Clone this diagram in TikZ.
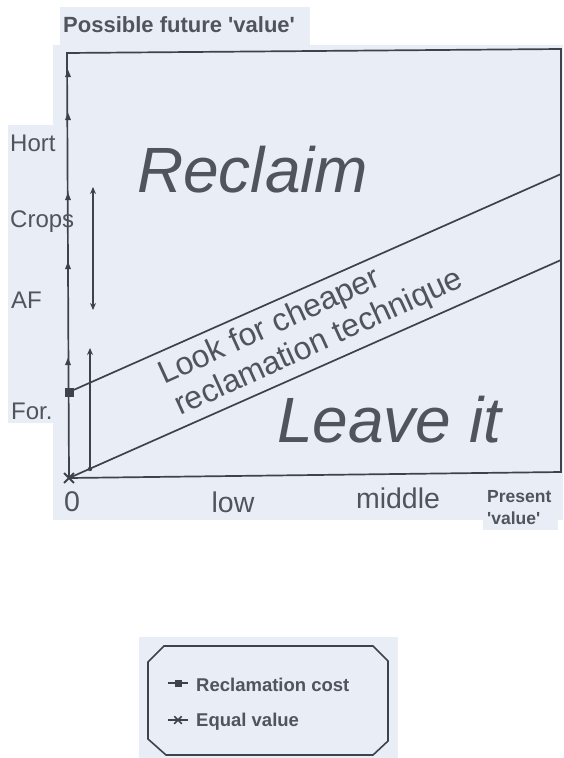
\documentclass[tikz,border=0pt]{standalone}
\usepackage{fontspec}
\setmainfont{Liberation Sans}
\usetikzlibrary{arrows.meta,shapes.geometric,shapes.misc}
\definecolor{bg}{RGB}{232,237,246}
\definecolor{ink}{RGB}{62,66,74}
\definecolor{txt}{RGB}{80,84,92}
\tikzset{
  axisline/.style={line width=1.7pt, draw=ink},
  tickmark/.style={isosceles triangle, shape border rotate=90, fill=ink, minimum width=6pt, minimum height=5pt, inner sep=0pt},
  lbl/.style={text=txt, inner sep=0pt, font=\fontsize{24}{28}\selectfont},
  axlbl/.style={text=txt, inner sep=0pt, font=\fontsize{28.5}{30}\selectfont},
  smallbold/.style={text=txt, inner sep=0pt, font=\bfseries\fontsize{18.5}{20}\selectfont},
  big/.style={text=txt, inner sep=0pt, font=\itshape\fontsize{64}{70}\selectfont},
  diag/.style={text=txt, inner sep=0pt, rotate=24.5, anchor=base west, font=\fontsize{32}{34}\selectfont},
  arr/.style={line width=1.4pt, draw=ink, {Stealth[length=7pt,width=6pt]}-{Stealth[length=7pt,width=6pt]}},
  legline/.style={line width=1.6pt, draw=ink}
}
\begin{document}
\begin{tikzpicture}[x=1pt,y=-1pt]
\useasboundingbox (0,0) rectangle (563,758);
\fill[white] (0,0) rectangle (563,758);
% paper backgrounds
\fill[bg] (60,7) rectangle (310,45);
\fill[bg] (53,45) rectangle (563,520);
\fill[bg] (8,125) rectangle (62,423);
\fill[bg] (483,500) rectangle (558,530);
\fill[bg] (139,637) rectangle (398,758);

% frame and axes
\coordinate (O) at (69,478);
\coordinate (TL) at (67,53);
\coordinate (TR) at (561,49);
\coordinate (BR) at (561,472);
\draw[axisline] (O) -- (TL) -- (TR) -- (BR) -- (O);

% value lines
\coordinate (S) at (69,392);
\coordinate (U) at (561,174);
\coordinate (L) at (561,260);
\draw[axisline] (S) -- (U);
\draw[axisline] (O) -- (L);

% axis tick markers
\foreach \yy/\nm in {75/t1,118/t2,198/t3,267/t4,363/t5}
  \node[tickmark] (\nm) at (68,\yy) {};
\node[fill=ink, minimum size=9pt, inner sep=0pt] (sq) at (S) {};
\node[cross out, draw=ink, line width=1.8pt, minimum size=8pt, inner sep=0pt] (ox) at (O) {};

% range arrows
\coordinate (a1) at (93,187);
\coordinate (a2) at (93,310);
\draw[arr] (a1) -- (a2);
\coordinate (b1) at (90,348);
\coordinate (b2) at (90,469);
\draw[line width=1.4pt, draw=ink, -{Stealth[length=7pt,width=6pt]}] (b2) -- (b1);
\fill[ink] (b2) circle (2.2pt);

% labels
\node[text=txt, inner sep=0pt, anchor=west, font=\bfseries\fontsize{22}{24}\selectfont] (yt) at (63,25) {Possible future \textquotesingle value\textquotesingle};
\node[lbl, anchor=west] (hort) at (10,143) {Hort};
\node[lbl, anchor=west] (crops) at (10,222) {Crops};
\node[lbl, anchor=west] (af) at (11,300) {AF};
\node[lbl, anchor=west] (for) at (11,411) {For.};
\node[axlbl] (zero) at (72,502) {0};
\node[axlbl] (low) at (233,502) {low};
\node[axlbl] (mid) at (398,498) {middle};
\node[text=txt, inner sep=0pt, anchor=west, font=\bfseries\fontsize{17.5}{20}\selectfont] (pres) at (487,497) {Present};
\node[text=txt, inner sep=0pt, anchor=west, font=\bfseries\fontsize{17.5}{20}\selectfont] (pval) at (487,518) {\textquotesingle value\textquotesingle};

\node[big, anchor=base west] (rec) at (137,192) {Reclaim};
\node[big, anchor=base west] (leave) at (277,442) {Leave it};
\node[diag] (look1) at (164,385) {Look for cheaper};
\node[diag] (look2) at (180,416) {reclamation technique};

% legend box (chamfered)
\coordinate (c1) at (164,646);
\coordinate (c2) at (373,646);
\coordinate (c3) at (388,661);
\coordinate (c4) at (388,741);
\coordinate (c5) at (373,755);
\coordinate (c6) at (166,755);
\coordinate (c7) at (148,739);
\coordinate (c8) at (148,662);
\draw[legline] (c1) -- (c2) -- (c3) -- (c4) -- (c5) -- (c6) -- (c7) -- (c8) -- cycle;

\coordinate (m1a) at (168,683);
\coordinate (m1b) at (188,683);
\draw[legline] (m1a) -- (m1b);
\node[fill=ink, minimum size=7pt, inner sep=0pt] (m1) at (178,683) {};
\node[smallbold, anchor=west] (l1) at (196,685) {Reclamation cost};
\coordinate (m2a) at (168,720);
\coordinate (m2b) at (188,720);
\draw[legline] (m2a) -- (m2b);
\node[cross out, draw=ink, line width=1.5pt, minimum size=6pt, inner sep=0pt] (m2) at (178,720) {};
\node[smallbold, anchor=west] (l2) at (196,722) {Equal value};
\end{tikzpicture}
\end{document}
